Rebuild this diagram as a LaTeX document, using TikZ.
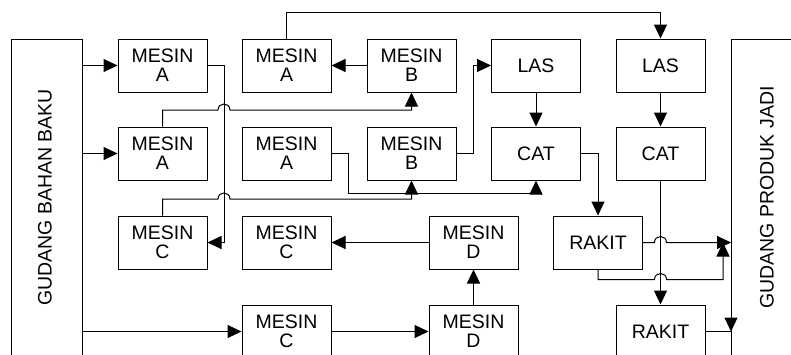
\documentclass[tikz,border=0pt]{standalone}
\usepackage{fontspec}
\setmainfont{Liberation Sans}
\usetikzlibrary{arrows.meta}

\begin{document}
\begin{tikzpicture}[x=1pt,y=-1pt,
  unit/.style={draw, line width=1pt, minimum width=89pt, minimum height=53pt,
    inner sep=0pt, align=center, font=\fontsize{19.5}{19}\selectfont},
  flow/.style={line width=1pt},
  arr/.style={flow, -{Triangle[length=14pt,width=13pt]}},
  store/.style={draw, line width=1pt, inner sep=0pt, anchor=north west},
  storelabel/.style={rotate=90, inner sep=0pt, font=\fontsize{19.5}{19.5}\selectfont}
]
\useasboundingbox (0,0) rectangle (791,354);
\clip (0,0) rectangle (791,354);

% warehouses
\node[store, minimum width=71pt, minimum height=340pt] (gbb) at (11,39) {};
\node[storelabel] (gbblabel) at (45,197.5) {GUDANG BAHAN BAKU};
\node[store, minimum width=90pt, minimum height=340pt] (gpj) at (731,39) {};
\node[storelabel] (gpjlabel) at (767,197.5) {GUDANG PRODUK JADI};

% work stations
\node[unit] (a1) at (162.5,65.5) {MESIN\\A};
\node[unit] (a2) at (286.5,65.5) {MESIN\\A};
\node[unit] (b1) at (411.5,65.5) {MESIN\\B};
\node[unit] (las1) at (536,65.5) {LAS};
\node[unit] (las2) at (660.5,65.5) {LAS};
\node[unit] (a3) at (162.5,153.5) {MESIN\\A};
\node[unit] (a4) at (286.5,153.5) {MESIN\\A};
\node[unit] (b2) at (411.5,153.5) {MESIN\\B};
\node[unit] (cat1) at (536,153.5) {CAT};
\node[unit] (cat2) at (660.5,153.5) {CAT};
\node[unit] (c1) at (162.5,242.5) {MESIN\\C};
\node[unit] (c2) at (286.5,242.5) {MESIN\\C};
\node[unit] (d1) at (473.5,242.5) {MESIN\\D};
\node[unit] (rakit1) at (598,242.5) {RAKIT};
\node[unit] (c3) at (286.5,331.5) {MESIN\\C};
\node[unit] (d2) at (473.5,331.5) {MESIN\\D};
\node[unit] (rakit2) at (660.5,331.5) {RAKIT};

\coordinate (merge) at (723,242.5);
\coordinate (gpjin) at (rakit2.east -| gpj.west);

% material flow
\draw[arr] (a1.west -| gbb.east) -- (a1.west);
\draw[arr] (a3.west -| gbb.east) -- (a3.west);
\draw[arr] (c3.west -| gbb.east) -- (c3.west);
\draw[arr] (a1.east) -- ++(17,0) |- (c1.east);
\draw[arr] (a3.north) |- (218,110) .. controls (218,102) and (230,102) .. (230,110) -| (b1.south);
\draw[arr] (c1.north) |- (218,199) .. controls (218,191) and (230,191) .. (230,199) -| (b2.south);
\draw[arr] (b1.west) -- (a2.east);
\draw[arr] (a2.north) -- ++(0,-26) -| (las2.north);
\draw[arr] (a4.east) -| (348,193) -| (cat1.south);
\draw[arr] (b2.east) -- ++(17,0) |- (las1.west);
\draw[arr] (las1.south) -- (cat1.north);
\draw[arr] (las2.south) -- (cat2.north);
\draw[arr] (cat1.east) -| (rakit1.north);
\draw[arr] (cat2.south) -- (rakit2.north);
\draw[arr] (rakit1.east) -- (654.5,242.5) .. controls (654.5,234.5) and (666.5,234.5) .. (666.5,242.5) -- (rakit1.east -| gpj.west);
\draw[arr] (rakit1.south) |- (654.5,279.5) .. controls (654.5,271.5) and (666.5,271.5) .. (666.5,279.5) -| (merge);
\draw[flow] (rakit2.east) -- (gpjin);
\draw[arr] ([yshift=14pt]gpjin) -- (gpjin);
\draw[arr] (c3.east) -- (d2.west);
\draw[arr] (d2.north) -- (d1.south);
\draw[arr] (d1.west) -- (c2.east);
\end{tikzpicture}
\end{document}
